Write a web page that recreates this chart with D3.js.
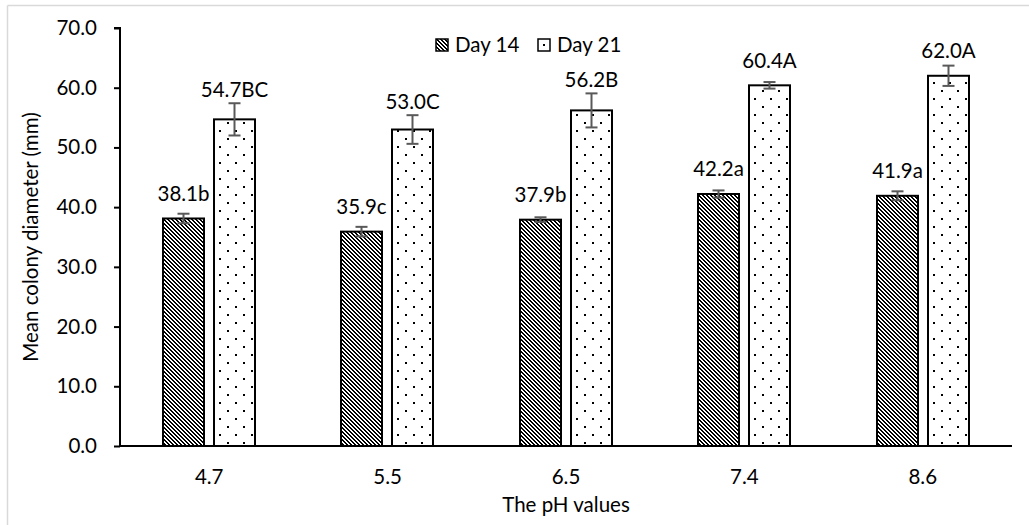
<!DOCTYPE html>
<html>
<head>
<meta charset="utf-8">
<script src="https://cdn.jsdelivr.net/npm/d3@7"></script>
<style>
  html, body { margin: 0; padding: 0; background: #fff; }
  svg { display: block; font-family: Lato, "Open Sans", sans-serif; }
</style>
</head>
<body>
<svg id="chart" width="1029" height="525"></svg>
<script>
// pH levels tested and colony growth measured on two days
const categories = ["4.7", "5.5", "6.5", "7.4", "8.6"];
const seriesNames = ["Day 14", "Day 21"];
const day14 = [38.1, 35.9, 37.9, 42.2, 41.9];
const day21 = [54.7, 53.0, 56.2, 60.4, 62.0];
const day14Err = [0.8, 0.8, 0.4, 0.6, 0.75];
const day21Err = [2.7, 2.4, 2.85, 0.55, 1.7];
const day14Letters = ["b", "c", "b", "a", "a"];
const day21Letters = ["BC", "C", "B", "A", "A"];
const yTicks = [0, 10, 20, 30, 40, 50, 60, 70];

const svg = d3.select("#chart");
const W = 1029, H = 525;
const plot = { left: 120, right: 1012, top: 28, bottom: 446 };
const FS = 20.5;

// outer frame (only top and left edges fall inside the page)
svg.append("line").attr("x1", 7.5).attr("x2", W).attr("y1", 5.5).attr("y2", 5.5)
  .attr("stroke", "#d9d9d9").attr("stroke-width", 1.5);
svg.append("line").attr("x1", 7.5).attr("x2", 7.5).attr("y1", 5.5).attr("y2", H)
  .attr("stroke", "#d9d9d9").attr("stroke-width", 1.5);

// fill patterns: pixel staircase diagonal and sparse dots
const defs = svg.append("defs");
const diag = defs.append("pattern").attr("id", "diag")
  .attr("patternUnits", "userSpaceOnUse").attr("width", 4).attr("height", 4);
diag.append("rect").attr("width", 4).attr("height", 4).attr("fill", "#fff");
[0, 1, 2, 3].forEach(r => {
  diag.append("rect").attr("x", r).attr("y", r).attr("width", 2).attr("height", 1)
    .attr("fill", "#000").attr("shape-rendering", "crispEdges");
  if (r === 3) {
    diag.append("rect").attr("x", 0).attr("y", r).attr("width", 1).attr("height", 1)
      .attr("fill", "#000").attr("shape-rendering", "crispEdges");
  }
});

const dots = defs.append("pattern").attr("id", "dots")
  .attr("patternUnits", "userSpaceOnUse").attr("width", 16).attr("height", 16)
  .attr("x", 3).attr("y", 2);
dots.append("rect").attr("width", 16).attr("height", 16).attr("fill", "#fff");
dots.append("rect").attr("x", 0).attr("y", 0).attr("width", 2).attr("height", 2).attr("fill", "#000");
dots.append("rect").attr("x", 8).attr("y", 8).attr("width", 2).attr("height", 2).attr("fill", "#000");

const fills = { "Day 14": "url(#diag)", "Day 21": "url(#dots)" };

// scales
const x = d3.scaleBand().domain(categories).range([plot.left, plot.right]).padding(0);
const bw = x.bandwidth();
const x1 = d3.scaleBand().domain(seriesNames).range([0, bw])
  .paddingInner(0.196).paddingOuter(0.847);
const y = d3.scaleLinear().domain([0, 70]).range([plot.bottom, plot.top]);

// y axis
const yAxis = svg.append("g").attr("transform", `translate(${plot.left},0)`)
  .call(d3.axisLeft(y).tickValues(yTicks).tickFormat(d3.format(".1f")).tickSize(6).tickPadding(17));
yAxis.select(".domain").attr("stroke", "#000").attr("stroke-width", 2)
  .attr("d", `M-6,${plot.top}H0V${plot.bottom}`);
yAxis.selectAll(".tick line").attr("stroke", "#000").attr("stroke-width", 2);
yAxis.selectAll(".tick text").attr("font-size", FS).attr("fill", "#000")
  .attr("font-family", "Lato, 'Open Sans', sans-serif");

// data rows
const rows = categories.map((c, i) => ({
  cat: c,
  items: [
    { name: "Day 14", value: day14[i], err: day14Err[i], letter: day14Letters[i] },
    { name: "Day 21", value: day21[i], err: day21Err[i], letter: day21Letters[i] }
  ]
}));

const groups = svg.append("g").selectAll("g").data(rows).join("g")
  .attr("transform", d => `translate(${Math.round(x(d.cat))},0)`);

const items = groups.selectAll("g.item").data(d => d.items).join("g").attr("class", "item");

items.append("rect")
  .attr("x", d => Math.round(x1(d.name)))
  .attr("y", d => y(d.value))
  .attr("width", Math.round(x1.bandwidth()))
  .attr("height", d => y(0) - y(d.value))
  .attr("fill", d => fills[d.name])
  .attr("stroke", "#000").attr("stroke-width", 2);

// error bars
const cx = d => Math.round(x1(d.name)) + Math.round(x1.bandwidth()) / 2;
items.append("line")
  .attr("x1", cx).attr("x2", cx)
  .attr("y1", d => y(d.value + d.err)).attr("y2", d => y(d.value - d.err))
  .attr("stroke", "#595959").attr("stroke-width", 2);
items.append("line")
  .attr("x1", d => cx(d) - 6).attr("x2", d => cx(d) + 6)
  .attr("y1", d => y(d.value + d.err)).attr("y2", d => y(d.value + d.err))
  .attr("stroke", "#595959").attr("stroke-width", 2);
items.append("line")
  .attr("x1", d => cx(d) - 6).attr("x2", d => cx(d) + 6)
  .attr("y1", d => y(d.value - d.err)).attr("y2", d => y(d.value - d.err))
  .attr("stroke", "#595959").attr("stroke-width", 2);

// value labels with significance letters
items.append("text")
  .attr("x", cx)
  .attr("y", d => Math.min(y(d.value) - 25, y(d.value + d.err) - 14))
  .attr("dy", "0.36em")
  .attr("text-anchor", "middle")
  .attr("font-size", FS).attr("fill", "#000")
  .text(d => d3.format(".1f")(d.value) + d.letter);

// x axis baseline and category labels
svg.append("line").attr("x1", plot.left).attr("x2", plot.right)
  .attr("y1", plot.bottom).attr("y2", plot.bottom)
  .attr("stroke", "#000").attr("stroke-width", 2);
svg.append("g").selectAll("text").data(categories).join("text")
  .attr("x", d => x(d) + bw / 2).attr("y", 477).attr("dy", "0.36em")
  .attr("text-anchor", "middle").attr("font-size", FS).attr("fill", "#000")
  .text(d => d);

// axis titles
svg.append("text").attr("x", 566).attr("y", 505).attr("dy", "0.36em")
  .attr("text-anchor", "middle").attr("font-size", FS).attr("fill", "#000")
  .text("The pH values");
svg.append("text").attr("transform", "translate(31,237) rotate(-90)").attr("dy", "0.36em")
  .attr("text-anchor", "middle").attr("font-size", FS).attr("fill", "#000")
  .text("Mean colony diameter (mm)");

// legend
const legendX = [436, 538];
const legend = svg.append("g").selectAll("g").data(seriesNames).join("g")
  .attr("transform", (d, i) => `translate(${legendX[i]},39)`);
legend.append("rect").attr("width", 12).attr("height", 12)
  .attr("fill", d => d === "Day 14" ? "url(#diag)" : "#fff")
  .attr("stroke", "#000").attr("stroke-width", 1.5);
legend.filter(d => d === "Day 21").append("rect")
  .attr("x", 5).attr("y", 5).attr("width", 2).attr("height", 2).attr("fill", "#000");
legend.append("text").attr("x", 19).attr("y", 6).attr("dy", "0.36em")
  .attr("font-size", FS).attr("fill", "#000").text(d => d);
</script>
</body>
</html>
